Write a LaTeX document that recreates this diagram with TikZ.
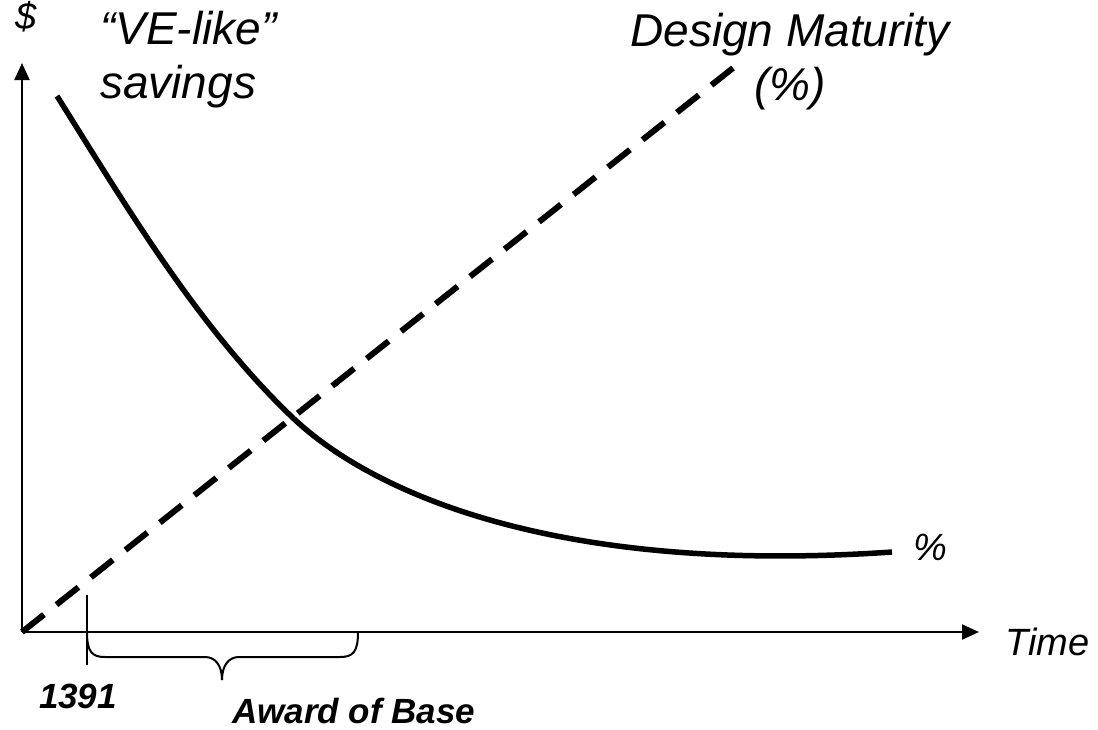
\documentclass[tikz,border=0pt]{standalone}
\usepackage{fontspec}
\setmainfont{Liberation Sans}
\usetikzlibrary{arrows.meta}

\begin{document}
\begin{tikzpicture}[x=1pt, y=-1pt,
  axis/.style={line width=2pt, -{Triangle[length=17pt,width=15pt]}},
  biglbl/.style={font=\fontsize{46}{54}\selectfont\itshape, inner sep=0pt},
  axlbl/.style={font=\fontsize{38}{42}\selectfont\itshape, inner sep=0pt},
  boldlbl/.style={font=\fontsize{35}{40}\selectfont\bfseries\itshape, inner sep=0pt}]

% Frame
\useasboundingbox (0,0) rectangle (1098,729);

% Axes
\coordinate (O) at (22,632);
\coordinate (ytip) at (22,63);
\coordinate (xtip) at (979,632);
\draw[axis] (O) -- (ytip);
\draw[axis] (O) -- (xtip);
\node[axlbl, anchor=base] (dollar) at (26,29) {\$};
\node[axlbl, anchor=base west] (time) at (1005,655) {Time};

% Design maturity (dashed)
\coordinate (dtop) at (733,68);
\draw[line width=6pt, dash pattern=on 28pt off 16pt] (O) -- (dtop);
\node[biglbl, anchor=north, align=center] (maturity) at (790,13) {Design Maturity\\(\%)};

% VE-like savings curve
\coordinate (cstart) at (57,96);
\coordinate (cross) at (292,417);
\coordinate (cend) at (892,552);
\draw[line width=5.5pt] (cstart) .. controls (126,206) and (198,327) .. (cross)
  .. controls (364,486) and (542,576) .. (cend);
\node[biglbl, anchor=north west, align=left] (savings) at (100,11) {“VE-like”\\savings};
\node[axlbl, anchor=base west] (pct) at (913,560) {\%};

% 1391 tick and award brace
\draw[line width=2pt] (87,595) -- (87,665);
\node[boldlbl, anchor=base] (year) at (78,708) {1391};
\draw[line width=2pt] (87,632) .. controls (87,652) and (92,657) .. (105,657) -- (205,657)
  .. controls (215,657) and (222,665) .. (222,680) .. controls (222,665) and (229,657) .. (239,657)
  -- (340,657) .. controls (353,657) and (358,652) .. (358,632);
\node[boldlbl, anchor=base west] (award) at (232,723) {Award of Base};

\end{tikzpicture}
\end{document}
